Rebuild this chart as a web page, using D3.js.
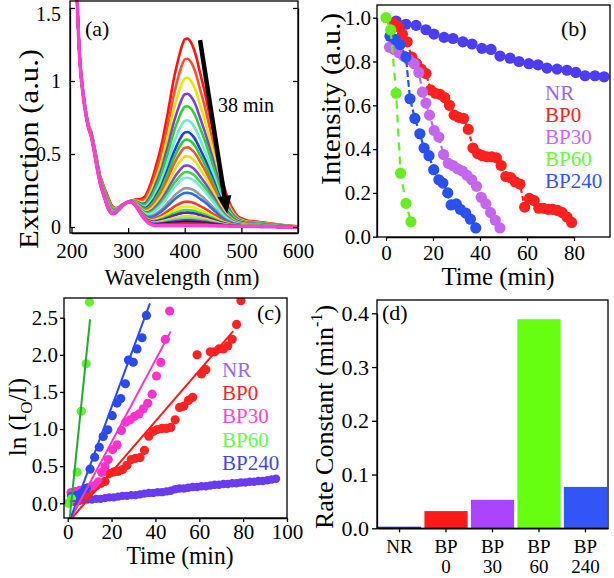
<!DOCTYPE html>
<html><head><meta charset="utf-8">
<script src="https://cdn.jsdelivr.net/npm/d3@7"></script>
<style>body{margin:0;background:#fff}svg{display:block}text{font-family:"Liberation Serif","Times New Roman",serif;}</style>
</head><body><svg id="chart" width="614" height="578"></svg>
<script>
// ---------------- DATA ----------------
// (a) spectra: initial (t=0) and final (t=38 min) extinction spectra, plus the 400 nm peak heights of each recorded curve
const wavelengths = [200,205,210,215,220,225,230,235,240,245,250,255,260,265,270,275,280,285,290,295,300,305,310,315,320,325,330,335,340,345,350,355,360,365,370,375,380,385,390,395,400,405,410,415,420,425,430,435,440,445,450,455,460,465,470,475,480,485,490,495,500,510,520,530,540,550,560,570,580,590,600];
const specInitial = [3.0,2.2,1.55,1.15,0.95,0.80,0.70,0.65,0.56,0.46,0.36,0.30,0.25,0.20,0.155,0.135,0.13,0.14,0.155,0.165,0.175,0.18,0.185,0.19,0.19,0.195,0.21,0.25,0.30,0.36,0.43,0.50,0.58,0.68,0.78,0.89,1.0,1.09,1.17,1.24,1.285,1.29,1.27,1.23,1.17,1.09,1.01,0.93,0.84,0.745,0.65,0.545,0.44,0.35,0.27,0.21,0.16,0.12,0.09,0.07,0.06,0.045,0.04,0.035,0.03,0.025,0.02,0.015,0.01,0.008,0.005];
const specFinal = [3.0,2.2,1.55,1.12,0.92,0.78,0.68,0.62,0.52,0.41,0.31,0.24,0.18,0.125,0.095,0.09,0.105,0.125,0.145,0.16,0.17,0.172,0.16,0.135,0.105,0.075,0.05,0.03,0.02,0.012,0.01,0.01,0.01,0.01,0.01,0.01,0.01,0.01,0.01,0.01,0.01,0.01,0.01,0.01,0.01,0.01,0.01,0.01,0.01,0.008,0.008,0.008,0.007,0.007,0.006,0.006,0.005,0.005,0.005,0.005,0.004,0.004,0.003,0.003,0.002,0.002,0.001,0.0,0.0,-0.002,-0.003];
const peakHeights = [1.285,1.148,1.018,0.909,0.824,0.728,0.648,0.596,0.543,0.482,0.42,0.375,0.336,0.265,0.233,0.173,0.139,0.116,0.098,0.075,0.058,0.046,0.035,0.025,0.01];
const curveColors = ["#ff1414","#ff5030","#e6e600","#7a3fe0","#30d030","#70e8d8","#1e3ee6","#2ad02a","#f05a30","#e8e010","#7f46e0","#38d838","#78e8e0","#9a9a9a","#2c70e0","#ff3a2a","#f0f000","#44dd44","#6020c0","#e0e020","#50d8b0","#8a2ad0","#202020","#a03030","#ff40d0"];
const aXTicks = [200,300,400,500,600];
const aYTicks = [0,0.5,1,1.5];
const aYTickLabels = ["0","0.5","1","1.5"];

// (b) intensity vs time
const seriesNames = ["NR","BP0","BP30","BP60","BP240"];
const bNR_t = [4.3,8.5,12.8,17,20.4,24.7,28.5,32.7,36.6,40.8,44.7,48.5,52.8,56.6,60.8,64.7,68.5,72.8,77,80.8,84.7,88.9,92.8];
const bNR_v = [0.985,0.97,0.965,0.945,0.925,0.91,0.905,0.89,0.88,0.86,0.855,0.825,0.815,0.80,0.79,0.785,0.77,0.765,0.76,0.75,0.735,0.735,0.73];
const bBP0_t = [3,5,7,9,11,13,15,17,19,21,23,25,27,29,31,33,35,37,39,41,43,45,47,49,51,53,55,57,59,61,63,65,67,69,71,73,75,77,79];
const bBP0_v = [0.975,0.96,0.925,0.89,0.82,0.79,0.765,0.745,0.67,0.655,0.65,0.635,0.60,0.555,0.545,0.54,0.49,0.405,0.38,0.37,0.365,0.365,0.36,0.325,0.275,0.27,0.25,0.24,0.135,0.175,0.165,0.13,0.13,0.125,0.125,0.12,0.11,0.09,0.065];
const bBP30_t = [1.5,3.5,5.5,7.5,9.5,12,14,15.5,17,18.5,20.5,22.5,24.5,26.5,28.5,30.5,32.5,34.5,36.5,38.5,40.5,42.5,44.5,46.5,48.5];
const bBP30_v = [0.865,0.855,0.84,0.825,0.81,0.79,0.75,0.66,0.61,0.555,0.485,0.455,0.375,0.335,0.325,0.31,0.30,0.28,0.26,0.23,0.18,0.15,0.11,0.075,0.04];
const bBP60_t = [0,2,4.3,6.2,8.5,10.6];
const bBP60_v = [1.0,0.944,0.655,0.29,0.152,0.068];
const bBP240_t = [1.7,4,6,8.5,10.2,12.3,14.4,16.2,18.3,20.3,22.5,24.2,26.3,27.7,29.9,31.6,33.9,35.9,38.2];
const bBP240_v = [0.915,0.90,0.877,0.82,0.63,0.54,0.47,0.405,0.37,0.306,0.26,0.245,0.20,0.145,0.15,0.125,0.108,0.08,0.04];
const bXTicks = [0,20,40,60,80];
const bYTicks = [0,0.2,0.4,0.6,0.8,1.0];

// (c) ln(I0/I) vs time with linear fits
const cNR_t = [1,3,5,7,9,11,13,15,17,19,21,23,25,27,29,31,33,35,37,39,41,43,45,47,49,51,53,55,57,59,61,63,65,67,69,71,73,75,77,79,81,83,85,87,89,91,93,95];
const cNR_v = [0.02,0.03,0.03,0.04,0.05,0.05,0.06,0.06,0.07,0.08,0.08,0.09,0.10,0.10,0.11,0.11,0.12,0.13,0.14,0.14,0.15,0.15,0.16,0.17,0.19,0.20,0.20,0.21,0.22,0.22,0.23,0.23,0.24,0.25,0.25,0.26,0.26,0.27,0.27,0.28,0.28,0.29,0.29,0.30,0.30,0.31,0.32,0.33];
const cBP0_t = [3,5,7,9,11,13,15,17,19,21,23,25,27,29,31,33,35,37,39,41,43,45,47,49,51,53,55,57,59,61,63,65,67,69,71,73,75,77,79];
const cBP0_v = [0.025,0.04,0.078,0.117,0.198,0.236,0.268,0.294,0.40,0.423,0.431,0.454,0.511,0.589,0.607,0.616,0.713,0.904,0.968,0.994,1.008,1.008,1.022,1.124,1.291,1.309,1.386,1.427,2.0,1.743,1.80,2.04,2.04,2.08,2.08,2.12,2.21,2.41,2.73];
const cBP30_t = [1.5,3.5,5.5,7.5,9.5,12,14,15.5,17,18.5,20.5,22.5,24.5,26.5,28.5,30.5,32.5,34.5,36.5,38.5,40.5,42.5,44.5,46.5];
const cBP30_v = [0.145,0.157,0.174,0.192,0.211,0.236,0.288,0.416,0.494,0.589,0.724,0.787,0.981,1.094,1.124,1.171,1.204,1.273,1.347,1.47,1.715,1.897,2.207,2.59];
const cBP60_t = [0.3,1.8,4.3,6.2,8.4,9.9];
const cBP60_v = [0.0,0.06,0.42,1.24,1.88,2.71];
const cBP240_t = [1.7,4,6,8.5,10.2,12.3,14.4,16.2,18.3,20.3,22.5,24.2,26.3,27.7,29.9,31.6,33.9,35.9];
const cBP240_v = [0.09,0.105,0.13,0.2,0.46,0.62,0.755,0.9,0.99,1.18,1.35,1.41,1.61,1.93,1.9,2.08,2.23,2.53];
const fitSlope = [0.0031,0.03424,0.0553,0.288,0.0799];
const fitIntercept = [0.02,-0.265,-0.283,-0.46,-0.304];
const fitStart = [1,1.9,1.5,0.9,1.3];
const fitEnd = [95,75.5,47,10.2,37.5];
const cXTicks = [0,20,40,60,80,100];
const cYTicks = [0,0.5,1.0,1.5,2.0,2.5];

// (d) rate constants
const dLine1 = ["NR","BP","BP","BP","BP"];
const dLine2 = ["","0","30","60","240"];
const rateConstants = [0.003,0.032,0.053,0.389,0.077];
const dYTicks = [0,0.1,0.2,0.3,0.4];

// ---------------- STYLES ----------------
const bPointColors = ["#4d3df0","#ff2020","#c466ee","#66ee22","#2a50f0"];
const bLineColors  = ["#4d3df0","#ff2020","#c466ee","#66ee22","#2a50f0"];
const bDash = [null,"5,3","6,3","8,6","7,3"];
const bLegendColors = ["#9966ff","#ff2020","#cc66ff","#66ff33","#3355ff"];
const cPointColors = ["#6a3cf0","#ff2222","#ff33cc","#66ee33","#2a4af0"];
const cLineColors = ["#6a3cf0","#ff1a1a","#ff33cc","#22aa33","#2a4af0"];
const cLegendColors = ["#9966ff","#ff2222","#ff44dd","#66ff44","#4444ee"];
const dBarColors = ["#2233ee","#ff1a1a","#aa44ff","#66ff11","#3355f5"];

const svg = d3.select("#chart");
const FONT = '"Liberation Serif","Times New Roman",serif';

function styleAxis(g, size){
  g.attr("font-family", FONT).attr("font-size", size);
  g.selectAll("path.domain").attr("stroke","#000").attr("stroke-width",1.3);
  g.selectAll(".tick line").attr("stroke","#000").attr("stroke-width",1.3);
  g.selectAll(".tick text").attr("fill","#000");
}
function box(x0,y0,x1,y1){
  svg.append("rect").attr("x",x0).attr("y",y0).attr("width",x1-x0).attr("height",y1-y0)
    .attr("fill","none").attr("stroke","#000").attr("stroke-width",1.3);
}
function title(x,y,str,size,rot,len){
  const t = svg.append("text").attr("font-size",size).attr("text-anchor","middle").attr("fill","#000")
    .attr("transform",`translate(${x},${y})`+(rot?" rotate(-90)":"")).text(str);
  if(len) t.attr("textLength",len).attr("lengthAdjust","spacingAndGlyphs");
  return t;
}

// ================= PANEL (a) =================
{
  const L=70,R=298,T=1,B=233;
  const x = d3.scaleLinear().domain([200,600]).range([71.5,298]);
  const y = d3.scaleLinear().domain([0,1.5]).range([227,8]);
  svg.append("clipPath").attr("id","clipA").append("rect").attr("x",L).attr("y",0).attr("width",R-L).attr("height",B);
  const i400 = wavelengths.indexOf(400);
  const line = d3.line().x(d=>x(d[0])).y(d=>y(d[1])).curve(d3.curveMonotoneX);
  const gc = svg.append("g").attr("clip-path","url(#clipA)");
  peakHeights.forEach((h,k)=>{
    const f = (h - specFinal[i400])/(specInitial[i400]-specFinal[i400]);
    const pts = wavelengths.map((w,i)=>[w, specFinal[i] + f*(specInitial[i]-specFinal[i])]);
    gc.append("path").attr("d",line(pts)).attr("fill","none").attr("stroke",curveColors[k])
      .attr("stroke-width", k===peakHeights.length-1 ? 3.5 : 2.6);
  });
  box(L,T,R,B);
  const ax = svg.append("g").attr("transform",`translate(0,${B})`)
    .call(d3.axisBottom(x).tickValues(aXTicks).tickSize(-5).tickSizeOuter(0).tickPadding(10).tickFormat(d3.format("d")));
  styleAxis(ax,21);
  const ay = svg.append("g").attr("transform",`translate(${L},0)`)
    .call(d3.axisLeft(y).tickValues(aYTicks).tickSize(-5).tickSizeOuter(0).tickPadding(9).tickFormat((d,i)=>aYTickLabels[i]));
  styleAxis(ay,20);
  ay.selectAll(".tick text").filter(d=>d===1.5).attr("dy","0.6em");
  const ar = svg.append("g").attr("transform",`translate(${R},0)`)
    .call(d3.axisRight(y).tickValues(aYTicks).tickSize(-5).tickSizeOuter(0).tickFormat(""));
  styleAxis(ar,10);
  // arrow
  const p0=[x(427),y(1.28)], p1=[x(475),y(0.09)];
  const dx=p1[0]-p0[0], dy=p1[1]-p0[1], len=Math.hypot(dx,dy), ux=dx/len, uy=dy/len, nx=-uy, ny=ux;
  svg.append("line").attr("x1",p0[0]).attr("y1",p0[1]).attr("x2",p1[0]-ux*14).attr("y2",p1[1]-uy*14)
    .attr("stroke","#000").attr("stroke-width",4.5);
  svg.append("path").attr("d",`M${p1[0]},${p1[1]}L${p1[0]-ux*18+nx*7},${p1[1]-uy*18+ny*7}L${p1[0]-ux*18-nx*7},${p1[1]-uy*18-ny*7}Z`).attr("fill","#000");
  svg.append("text").attr("x",218).attr("y",112).attr("font-size",20).text("38 min");
  svg.append("text").attr("x",85).attr("y",36).attr("font-size",22).text("(a)");
  title(182,285,"Wavelength (nm)",24,false,155);
  title(38,149,"Extinction (a.u.)",27,true,200);
}

// ================= PANEL (b) =================
{
  const L=377,R=610,T=5,B=237;
  const x = d3.scaleLinear().domain([0,80]).range([386,574]);
  const y = d3.scaleLinear().domain([0,1]).range([236.7,17.7]);
  const ts=[bNR_t,bBP0_t,bBP30_t,bBP60_t,bBP240_t], vs=[bNR_v,bBP0_v,bBP30_v,bBP60_v,bBP240_v];
  const line = d3.line().x(d=>x(d[0])).y(d=>y(d[1]));
  const order=[0,1,2,4,3];
  order.forEach(k=>{
    const pts = ts[k].map((t,i)=>[t,vs[k][i]]);
    if(bDash[k]) svg.append("path").attr("d",line(pts)).attr("fill","none").attr("stroke",bLineColors[k])
      .attr("stroke-width",2.2).attr("stroke-dasharray",bDash[k]);
    svg.append("g").selectAll("circle").data(pts).join("circle")
      .attr("cx",d=>x(d[0])).attr("cy",d=>y(d[1])).attr("r",5.6).attr("fill",bPointColors[k]);
  });
  box(L,T,R,B);
  const ax = svg.append("g").attr("transform",`translate(0,${B})`)
    .call(d3.axisBottom(x).tickValues(bXTicks).tickSize(4).tickSizeOuter(0).tickPadding(4));
  styleAxis(ax,21);
  const ay = svg.append("g").attr("transform",`translate(${L},0)`)
    .call(d3.axisLeft(y).tickValues(bYTicks).tickSize(4).tickSizeOuter(0).tickPadding(2).tickFormat(d3.format(".1f")));
  styleAxis(ay,21);
  seriesNames.forEach((s,i)=>svg.append("text").attr("x",545).attr("y",100+i*22).attr("font-size",21)
    .attr("fill",bLegendColors[i]).text(s));
  svg.append("text").attr("x",561).attr("y",36).attr("font-size",22).text("(b)");
  title(498,285,"Time (min)",25,false,113);
  title(340,99,"Intensity (a.u.)",27,true,172);
}

// ================= PANEL (c) =================
{
  const L=64,R=287,T=298,B=518;
  const x = d3.scaleLinear().domain([0,100]).range([67.7,287]);
  const y = d3.scaleLinear().domain([0,2.5]).range([503.3,317.7]);
  svg.append("clipPath").attr("id","clipC").append("rect").attr("x",L).attr("y",T).attr("width",R-L).attr("height",B-T);
  const g = svg.append("g").attr("clip-path","url(#clipC)");
  const ts=[cNR_t,cBP0_t,cBP30_t,cBP60_t,cBP240_t], vs=[cNR_v,cBP0_v,cBP30_v,cBP60_v,cBP240_v];
  const line = d3.line().x(d=>x(d[0])).y(d=>y(d[1]));
  [0,1,2,4,3].forEach(k=>{
    const pts = ts[k].map((t,i)=>[t,vs[k][i]]);
    g.append("g").selectAll("circle").data(pts).join("circle")
      .attr("cx",d=>x(d[0])).attr("cy",d=>y(d[1])).attr("r",k===0?4.2:4.6).attr("fill",cPointColors[k]);
  });
  [0,1,2,4,3].forEach(k=>{
    const fl = [fitStart[k],fitEnd[k]].map(t=>[t, fitSlope[k]*t + fitIntercept[k]]);
    g.append("path").attr("d",line(fl)).attr("stroke",cLineColors[k]).attr("stroke-width",2).attr("fill","none");
  });
  box(L,T,R,B);
  const ax = svg.append("g").attr("transform",`translate(0,${B})`)
    .call(d3.axisBottom(x).tickValues(cXTicks).tickSize(4).tickSizeOuter(0).tickPadding(2));
  styleAxis(ax,21);
  const ay = svg.append("g").attr("transform",`translate(${L},0)`)
    .call(d3.axisLeft(y).tickValues(cYTicks).tickSize(4).tickSizeOuter(0).tickPadding(2).tickFormat(d3.format(".1f")));
  styleAxis(ay,21);
  seriesNames.forEach((s,i)=>svg.append("text").attr("x",222).attr("y",377+i*23.2).attr("font-size",21)
    .attr("fill",cLegendColors[i]).text(s));
  svg.append("text").attr("x",257).attr("y",320).attr("font-size",22).text("(c)");
  title(180,564,"Time (min)",25,false,107);
  const t = svg.append("text").attr("font-size",25).attr("text-anchor","middle").attr("fill","#000")
    .attr("transform","translate(26,417) rotate(-90)");
  t.append("tspan").text("ln (I");
  t.append("tspan").attr("font-size",17).attr("dy",6).text("O");
  t.append("tspan").attr("dy",-6).text("/I)");
}

// ================= PANEL (d) =================
{
  const L=377,R=608,T=300,B=528.3;
  const x = d3.scaleBand().domain(d3.range(rateConstants.length)).range([L,R]).paddingInner(0.07).paddingOuter(0.02);
  const y = d3.scaleLinear().domain([0,0.4]).range([528.3,313.3]);
  svg.append("g").selectAll("rect").data(rateConstants).join("rect")
    .attr("x",(d,i)=>x(i)).attr("width",x.bandwidth()).attr("y",d=>y(d)).attr("height",d=>y(0)-y(d))
    .attr("fill",(d,i)=>dBarColors[i]);
  box(L,T,R,B);
  const ay = svg.append("g").attr("transform",`translate(${L},0)`)
    .call(d3.axisLeft(y).tickValues(dYTicks).tickSize(5).tickSizeOuter(0).tickPadding(3).tickFormat(d3.format(".1f")));
  styleAxis(ay,22);
  const ax = svg.append("g").attr("transform",`translate(0,${B})`)
    .call(d3.axisBottom(x).tickSize(4).tickSizeOuter(0).tickFormat(""));
  styleAxis(ax,10);
  rateConstants.forEach((d,i)=>{
    const cx = x(i)+x.bandwidth()/2;
    svg.append("text").attr("x",cx).attr("y",553).attr("font-size",19).attr("text-anchor","middle").text(dLine1[i]);
    svg.append("text").attr("x",cx).attr("y",573).attr("font-size",19).attr("text-anchor","middle").text(dLine2[i]);
  });
  svg.append("text").attr("x",382).attr("y",320).attr("font-size",22).text("(d)");
  const t = svg.append("text").attr("font-size",26).attr("text-anchor","middle").attr("fill","#000")
    .attr("transform","translate(333,417) rotate(-90)");
  t.append("tspan").text("Rate Constant (min");
  t.append("tspan").attr("font-size",16).attr("dy",-11).text("-1");
  t.append("tspan").attr("dy",11).text(")");
}
</script></body></html>
